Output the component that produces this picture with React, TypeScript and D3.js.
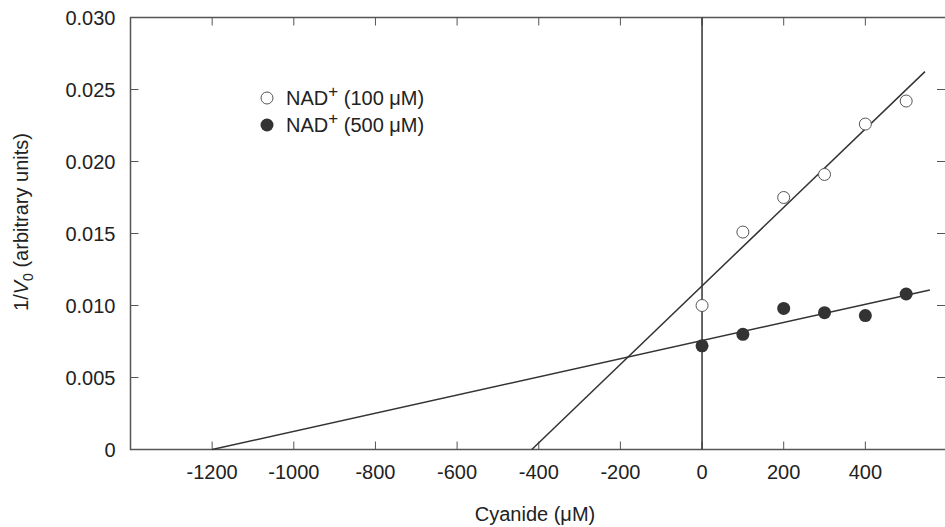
import React, { useRef, useEffect } from 'react';
import * as d3 from 'd3';

// cyanide concentration (uM)
const cyanide = [0, 100, 200, 300, 400, 500];
// 1/V0 with NAD+ 100 uM (open circles)
const nad100 = [0.0100, 0.0151, 0.0175, 0.0191, 0.0226, 0.0242];
// 1/V0 with NAD+ 500 uM (filled circles)
const nad500 = [0.0072, 0.0080, 0.0098, 0.0095, 0.0093, 0.0108];
// fitted line end points [x, y]
const fit100: [number, number][] = [[-417, 0], [546, 0.02624]];
const fit500: [number, number][] = [[-1200, 0], [558, 0.01108]];

const xTicks = [-1200, -1000, -800, -600, -400, -200, 0, 200, 400];
const yTicks = [0, 0.005, 0.01, 0.015, 0.02, 0.025, 0.03];

const W = 945;
const H = 527;

const App = () => {
  const ref = useRef<SVGSVGElement>(null);

  useEffect(() => {
    const svg = d3.select(ref.current);
    svg.selectAll('*').remove();

    const left = 130.5, right = 947, top = 17.5, bottom = 449.5;
    const x = d3.scaleLinear().domain([-1400, 600]).range([left, right]);
    const y = d3.scaleLinear().domain([0, 0.03]).range([bottom, top]);
    const axisColor = '#555';
    const ink = '#333';
    const font = 'Liberation Sans, Arial, Helvetica, sans-serif';

    // frame
    svg.append('rect')
      .attr('x', left).attr('y', top)
      .attr('width', right - left).attr('height', bottom - top)
      .attr('fill', 'none').attr('stroke', axisColor).attr('stroke-width', 1.5);

    // ticks
    xTicks.forEach(t => {
      svg.append('line').attr('x1', x(t)).attr('x2', x(t))
        .attr('y1', bottom).attr('y2', bottom - 8)
        .attr('stroke', axisColor).attr('stroke-width', 1);
      svg.append('line').attr('x1', x(t)).attr('x2', x(t))
        .attr('y1', top).attr('y2', top + 8)
        .attr('stroke', axisColor).attr('stroke-width', 1);
      svg.append('text').attr('x', x(t)).attr('y', bottom + 29)
        .attr('text-anchor', 'middle').attr('font-family', font)
        .attr('font-size', 20).attr('fill', '#222')
        .text(String(t));
    });
    yTicks.forEach(t => {
      svg.append('line').attr('x1', left).attr('x2', left + 8)
        .attr('y1', y(t)).attr('y2', y(t))
        .attr('stroke', axisColor).attr('stroke-width', 1);
      svg.append('line').attr('x1', right - 10).attr('x2', right - 2)
        .attr('y1', y(t)).attr('y2', y(t))
        .attr('stroke', axisColor).attr('stroke-width', 1);
      svg.append('text').attr('x', left - 15).attr('y', y(t) + 7)
        .attr('text-anchor', 'end').attr('font-family', font)
        .attr('font-size', 20).attr('fill', '#222')
        .text(t === 0 ? '0' : d3.format('.3f')(t));
    });

    // vertical line at zero
    svg.append('line').attr('x1', x(0)).attr('x2', x(0))
      .attr('y1', top).attr('y2', bottom)
      .attr('stroke', ink).attr('stroke-width', 1.5);

    const line = d3.line<[number, number]>().x(d => x(d[0])).y(d => y(d[1]));
    [fit100, fit500].forEach(f => {
      svg.append('path').attr('d', line(f))
        .attr('fill', 'none').attr('stroke', ink).attr('stroke-width', 1.5);
    });

    svg.selectAll('.open').data(cyanide).enter().append('circle')
      .attr('cx', d => x(d)).attr('cy', (d, i) => y(nad100[i]))
      .attr('r', 6).attr('fill', '#fff').attr('stroke', '#555').attr('stroke-width', 1);

    svg.selectAll('.filled').data(cyanide).enter().append('circle')
      .attr('cx', d => x(d)).attr('cy', (d, i) => y(nad500[i]))
      .attr('r', 6.5).attr('fill', '#333');

    // legend
    const legend = [
      { conc: '100', open: true, cy: 98 },
      { conc: '500', open: false, cy: 125 },
    ];
    legend.forEach(l => {
      svg.append('circle').attr('cx', 267).attr('cy', l.cy)
        .attr('r', l.open ? 6 : 6.5)
        .attr('fill', l.open ? '#fff' : '#333')
        .attr('stroke', l.open ? '#555' : 'none');
      const t = svg.append('text').attr('x', 286).attr('y', l.cy + 7)
        .attr('font-family', font).attr('font-size', 20).attr('fill', '#222');
      t.append('tspan').text('NAD');
      t.append('tspan').attr('dy', -8).attr('font-size', 17).text('+');
      t.append('tspan').attr('dy', 8).text(` (${l.conc} \u03bcM)`);
    });

    // axis titles
    svg.append('text').attr('x', 535).attr('y', 521)
      .attr('text-anchor', 'middle').attr('font-family', font)
      .attr('font-size', 20).attr('fill', '#222')
      .text('Cyanide (\u03bcM)');

    const yt = svg.append('text')
      .attr('transform', 'translate(28,222) rotate(-90)')
      .attr('text-anchor', 'middle').attr('font-family', font)
      .attr('font-size', 20).attr('fill', '#222');
    yt.append('tspan').text('1/');
    yt.append('tspan').attr('font-style', 'italic').text('V');
    yt.append('tspan').attr('dy', 5).attr('font-size', 14).text('0');
    yt.append('tspan').attr('dy', -5).text(' (arbitrary units)');
  }, []);

  return (
    <svg ref={ref} width={W} height={H}
      style={{ position: 'absolute', left: 0, top: 0, background: '#fff' }} />
  );
};

export default App;
